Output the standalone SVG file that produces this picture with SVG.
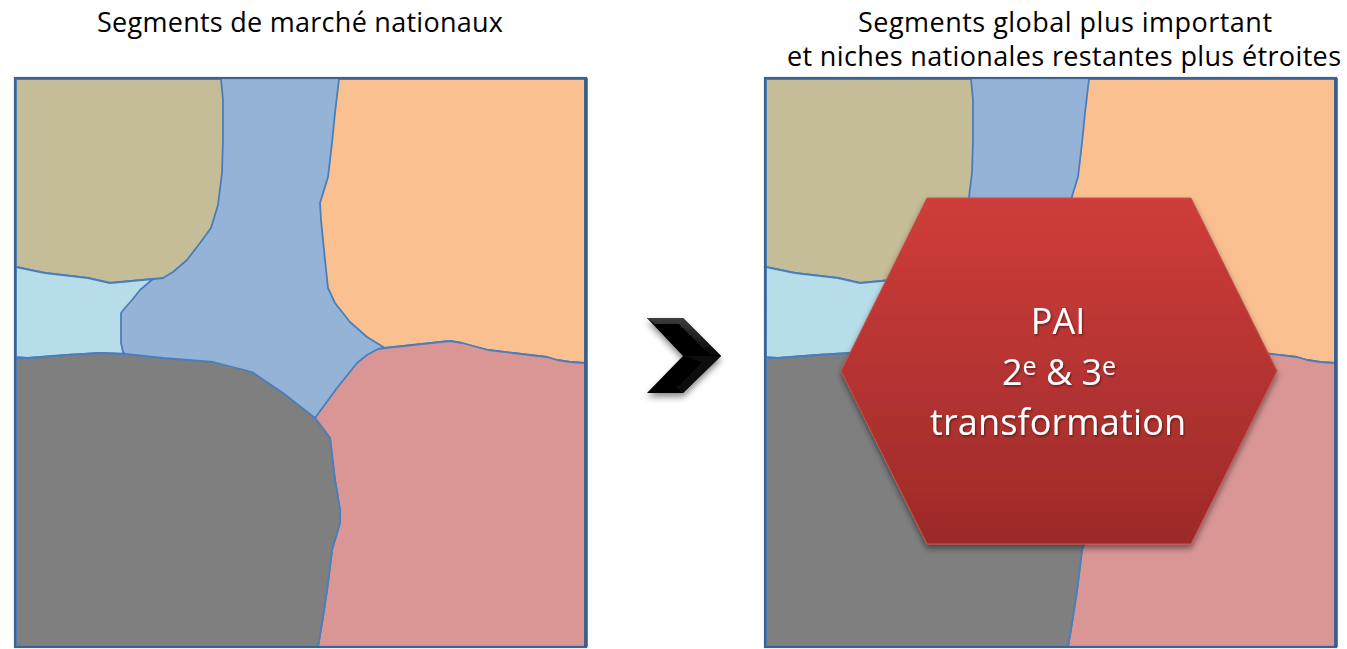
<svg xmlns="http://www.w3.org/2000/svg" xmlns:xlink="http://www.w3.org/1999/xlink" width="1347" height="649" viewBox="0 0 1347 649">
  <style>
    .title { font-family: "Open Sans", "Liberation Sans", sans-serif; font-size: 27px; fill: #000; text-anchor: middle; font-variant-ligatures: none; }
    .region { stroke: #4a7ebb; stroke-width: 1.8; stroke-linejoin: round; }
    .frame { fill: none; stroke: #3b6290; stroke-width: 2.2; }
    .hexlabel { font-family: "Open Sans", "Liberation Sans", sans-serif; font-size: 36px; fill: #fff; text-anchor: middle; font-variant-ligatures: none; }
  </style>
  <defs>
    <linearGradient id="hexFill" x1="0" y1="0" x2="0" y2="1">
      <stop offset="0" stop-color="#ce3d3a"/>
      <stop offset="1" stop-color="#9c2a29"/>
    </linearGradient>
    <linearGradient id="chevTop" x1="0" y1="0" x2="0" y2="1">
      <stop offset="0" stop-color="#3c3c3c"/>
      <stop offset="1" stop-color="#050505"/>
    </linearGradient>
    <filter id="shadow" x="-20%" y="-20%" width="140%" height="140%">
      <feDropShadow dx="0" dy="4" stdDeviation="3" flood-color="#000" flood-opacity="0.45"/>
    </filter>
    <filter id="textShadow" x="-10%" y="-30%" width="120%" height="160%">
      <feDropShadow dx="1" dy="1.5" stdDeviation="1" flood-color="#000" flood-opacity="0.45"/>
    </filter>

    <!-- market map: blue base with the other segments on top -->
    <g id="marketMap">
      <rect x="15" y="78" width="571" height="569" fill="#95b3d7"/>
      <path class="region" fill="#c4bd97" d="M16,79 L221,79 L223,100 L223,140 L222,173 L218,205 L211,228 L200,243 L187,260 L173,272 L163,278 L153,279 L110,283 L88,278 L45,273 L16,267 Z"/>
      <path class="region" fill="#b7dde8" d="M16,267 L45,273 L88,278 L110,283 L153,279 L140,290 L132,300 L125,308 L121,313 L121,343 L123,352 L125,354 L100,353 L67,355 L28,358 L16,357 Z"/>
      <path class="region" fill="#fac090" d="M339,79 L585,79 L585,363 L570,362 L557,360 L547,357 L513,353 L488,350 L462,343 L450,341 L385,348 L367,337 L350,322 L335,303 L328,288 L325,260 L321,220 L320,203 L328,177 L332,143 L335,113 Z"/>
      <path class="region" fill="#d99694" d="M378,349 L385,348 L450,341 L462,343 L488,350 L513,353 L547,357 L557,360 L570,362 L585,363 L585,647 L318,647 L323,617 L328,583 L332,550 L340,523 L340,510 L335,480 L330,438 L315,418 L337,388 L357,363 L367,355 Z"/>
      <path class="region" fill="#7f7f7f" d="M16,358 L28,358 L67,355 L100,353 L125,354 L163,358 L213,362 L252,372 L283,393 L315,418 L330,438 L335,480 L340,510 L340,523 L332,550 L328,583 L323,617 L318,647 L16,647 Z"/>
      <rect class="frame" x="15" y="78" width="571" height="569"/>
      <line x1="586" y1="78" x2="586" y2="647" stroke="#385d8a" stroke-width="3.5"/>
    </g>
  </defs>

  <!-- left panel: national segments -->
  <g id="national">
    <text class="title" x="300" y="32" textLength="406" lengthAdjust="spacing">Segments de marché nationaux</text>
    <use xlink:href="#marketMap" href="#marketMap"/>
  </g>

  <!-- transition arrow -->
  <g id="chevron" filter="url(#shadow)">
    <polygon points="647,318 683,318 721,356 683,393 647,393 683,356" fill="#000"/>
    <polygon points="647,318 683,318 721,356 711,356 679,324 655,324" fill="url(#chevTop)"/>
    <polygon points="683,356 711,356 721,356 683,393 677,387 703,362" fill="#111"/>
  </g>

  <!-- right panel: global segment with remaining national niches -->
  <g id="global">
    <text class="title" x="1065" y="32" textLength="414" lengthAdjust="spacing">Segments global plus important</text>
    <text class="title" x="1064" y="66" textLength="554" lengthAdjust="spacing">et niches nationales restantes plus étroites</text>
    <use xlink:href="#marketMap" href="#marketMap" x="750" y="0"/>
  </g>

  <!-- PAI hexagon -->
  <g id="pai">
    <polygon points="927,198 1191,198 1277,371 1191,544 927,544 841,371" fill="url(#hexFill)" stroke="#c9504c" stroke-width="1" filter="url(#shadow)"/>
    <g filter="url(#textShadow)">
      <text class="hexlabel" x="1058" y="334">PAI</text>
      <text class="hexlabel" x="1059" y="385">2<tspan font-size="25" dy="-10">e</tspan><tspan dy="10"> &amp; 3</tspan><tspan font-size="25" dy="-10">e</tspan></text>
      <text class="hexlabel" x="1058" y="435" textLength="256" lengthAdjust="spacing">transformation</text>
    </g>
  </g>
</svg>
